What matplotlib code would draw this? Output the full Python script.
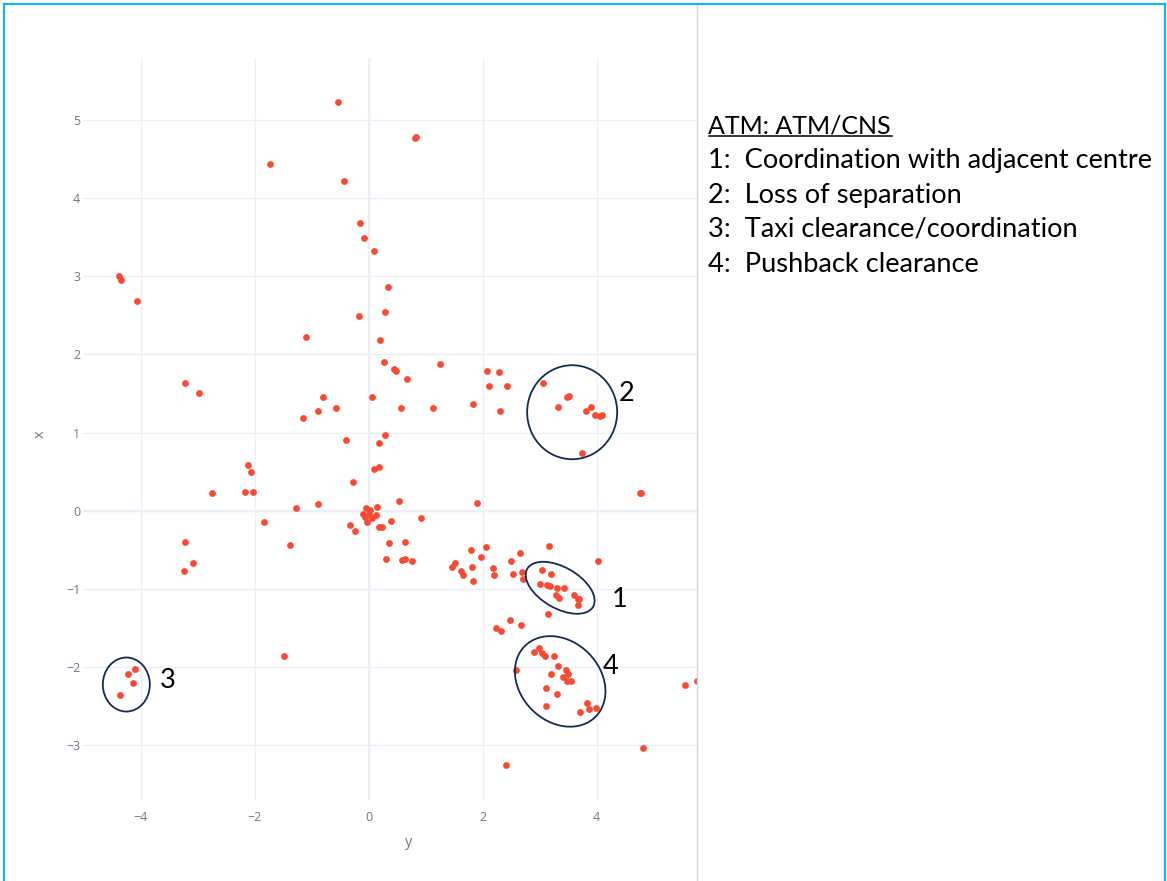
import matplotlib
matplotlib.use("Agg")
import matplotlib.pyplot as plt
from matplotlib.patches import Ellipse
from matplotlib.lines import Line2D
from matplotlib.transforms import ScaledTranslation

# horizontal axis is labelled "y", vertical axis "x"
y_vals = [-0.53, -1.73, -0.43, 0.82, 0.83, -0.15, -0.08, 0.10, 0.34, -0.17,
          0.29, -1.10, 0.20, -4.37, -4.34, -4.06, 0.27, 0.45, 0.48, 0.67,
          1.25, -0.80, 0.06, -3.22, -2.97, -0.89, -0.57, -1.15, 0.57, 1.13,
          0.29, -0.39, 0.18, -2.11, -2.06, 0.18, 0.10, -0.27, -2.74, -2.17,
          -2.02, 0.53, -1.27, -0.89, 0.15, -0.04, 0.03, -0.10, 0.01, 0.13,
          0.06, -0.03, -0.06, 0.92, 0.39, -0.32, -0.24, 0.18, 0.24, -1.83,
          -3.22, -3.08, -3.23, -1.38, 0.36, 0.64, 0.31, 0.59, 0.64, 0.76,
          -1.48, 2.08, 2.29, 2.11, 2.43, 1.83, 2.31, 1.90, 3.06, 3.48,
          3.52, 3.32, 3.90, 3.81, 3.97, 4.06, 4.09, 3.74, 4.76, 4.78,
          1.80, 2.06, 1.97, 2.66, 3.16, 1.52, 1.46, 1.62, 1.66, 1.81,
          1.83, 2.18, 2.20, 2.50, 2.53, 2.69, 2.71, 4.02, 3.04, 3.20,
          3.01, 3.13, 3.18, 3.30, 3.43, 3.28, 3.34, 3.60, 3.67, 3.69,
          3.67, 3.15, 2.48, 2.24, 2.32, 2.67, 2.90, 2.99, 3.04, 3.09,
          3.25, 3.32, 2.59, 3.20, 3.46, 3.50, 3.41, 3.48, 3.55, 3.11,
          3.30, 3.11, 3.71, 3.83, 3.87, 3.99, 5.55, 5.76, 4.81, 2.41,
          -4.09, -4.22, -4.13, -4.36]
x_vals = [5.23, 4.44, 4.22, 4.77, 4.79, 3.68, 3.49, 3.32, 2.86, 2.49,
          2.54, 2.22, 2.18, 3.00, 2.96, 2.69, 1.91, 1.81, 1.79, 1.68,
          1.88, 1.46, 1.46, 1.64, 1.50, 1.28, 1.32, 1.18, 1.31, 1.31,
          0.97, 0.90, 0.87, 0.59, 0.50, 0.56, 0.53, 0.37, 0.23, 0.24,
          0.24, 0.12, 0.03, 0.08, 0.05, 0.03, 0.01, -0.04, -0.05, -0.06,
          -0.10, -0.15, -0.08, -0.10, -0.14, -0.18, -0.26, -0.21, -0.21, -0.15,
          -0.40, -0.67, -0.77, -0.44, -0.42, -0.40, -0.62, -0.63, -0.62, -0.65,
          -1.86, 1.79, 1.77, 1.59, 1.59, 1.37, 1.27, 0.10, 1.64, 1.46,
          1.47, 1.33, 1.33, 1.27, 1.22, 1.21, 1.22, 0.74, 0.22, 0.23,
          -0.51, -0.47, -0.59, -0.54, -0.46, -0.67, -0.73, -0.78, -0.82, -0.73,
          -0.90, -0.74, -0.82, -0.65, -0.81, -0.79, -0.88, -0.65, -0.76, -0.81,
          -0.94, -0.95, -0.97, -0.99, -0.99, -1.08, -1.12, -1.08, -1.13, -1.14,
          -1.21, -1.33, -1.40, -1.50, -1.55, -1.47, -1.81, -1.76, -1.83, -1.87,
          -1.86, -1.99, -2.04, -2.09, -2.05, -2.10, -2.13, -2.19, -2.19, -2.28,
          -2.35, -2.50, -2.58, -2.47, -2.55, -2.53, -2.23, -2.19, -3.04, -3.26,
          -2.03, -2.10, -2.21, -2.36]

# circled groups: label, centre (y, x), width/height in px, angle
group_labels = ["1", "2", "3", "4"]
group_centres = [(3.36, -0.99), (3.57, 1.26), (-4.25, -2.23), (3.36, -2.19)]
group_sizes = [(76, 41, -30), (90, 94, 0), (47, 54, 0), (100, 80, -45)]
label_pos = [(4.41, -1.23), (4.53, 1.41), (-3.53, -2.27), (4.25, -2.09)]

legend_title = "ATM: ATM/CNS"
legend_lines = ["1:  Coordination with adjacent centre",
                "2:  Loss of separation",
                "3:  Taxi clearance/coordination",
                "4:  Pushback clearance"]

W, H = 1167, 881
fig = plt.figure(figsize=(W / 100, H / 100), dpi=100)
fig.patch.set_facecolor("white")

ax = fig.add_axes([83 / W, 1 - 800 / H, (697 - 83) / W, (800 - 58) / H])
ax.set_xlim(-5.01, 5.76)
ax.set_ylim(-3.71, 5.80)
for s in ax.spines.values():
    s.set_visible(False)
ax.set_xticks([-4, -2, 0, 2, 4])
ax.set_yticks([-3, -2, -1, 0, 1, 2, 3, 4, 5])
ax.grid(True, color="#EBF0F8", lw=1.0)
ax.axhline(0, color="#EBF0F8", lw=1.6, zorder=1)
ax.axvline(0, color="#EBF0F8", lw=1.6, zorder=1)
ax.set_axisbelow(True)
ax.tick_params(length=0, labelsize=9, labelcolor="#6b7a8c", pad=2)
ax.tick_params(axis="x", pad=8)
for lab in ax.get_xticklabels() + ax.get_yticklabels():
    lab.set_family("Open Sans")

ax.scatter(y_vals, x_vals, s=24, color="#FA4A33", linewidths=0, zorder=3)

fig.text(409 / W, 1 - 843 / H, "y", fontsize=10.5, color="#6b7a8c",
         family="Open Sans", ha="center", va="center")
fig.text(40 / W, 1 - 434 / H, "x", fontsize=10.5, color="#6b7a8c",
         family="Open Sans", ha="center", va="center", rotation=90)

for lbl, c, sz, lp in zip(group_labels, group_centres, group_sizes, label_pos):
    tr = fig.dpi_scale_trans + ScaledTranslation(c[0], c[1], ax.transData)
    e = Ellipse((0, 0), sz[0] / 100, sz[1] / 100, angle=sz[2],
                transform=tr, fill=False, ec="#142B52", lw=1.3, zorder=4)
    ax.add_artist(e)
    ax.text(lp[0], lp[1], lbl, fontsize=19.5, family="Lato", color="black",
            ha="center", va="baseline", zorder=5)

# legend text block
fig.text(708 / W, 1 - 133 / H, legend_title, fontsize=18, family="Lato",
         color="black", va="baseline")
fig.add_artist(Line2D([709 / W, 892 / W], [1 - 136 / H, 1 - 136 / H],
                      color="black", lw=1.1))
baselines = [168, 203, 237, 272]
for t, b in zip(legend_lines, baselines):
    fig.text(708 / W, 1 - b / H, t, fontsize=19.6, family="Lato",
             color="black", va="baseline")

# slide frame and divider
fig.add_artist(Line2D([697 / W, 697 / W], [0, 1 - 5 / H], color="#d6d6d6", lw=1.0))
fig.add_artist(Line2D([3.5 / W, 3.5 / W], [0, 1 - 3.5 / H], color="#19B2EE", lw=1.6))
fig.add_artist(Line2D([3.5 / W, 1164.5 / W], [1 - 3.5 / H, 1 - 3.5 / H],
                      color="#19B2EE", lw=1.6))
fig.add_artist(Line2D([1164.5 / W, 1164.5 / W], [0, 1 - 3.5 / H],
                      color="#19B2EE", lw=1.6))

fig.savefig("out.png", dpi=100, facecolor="white")
